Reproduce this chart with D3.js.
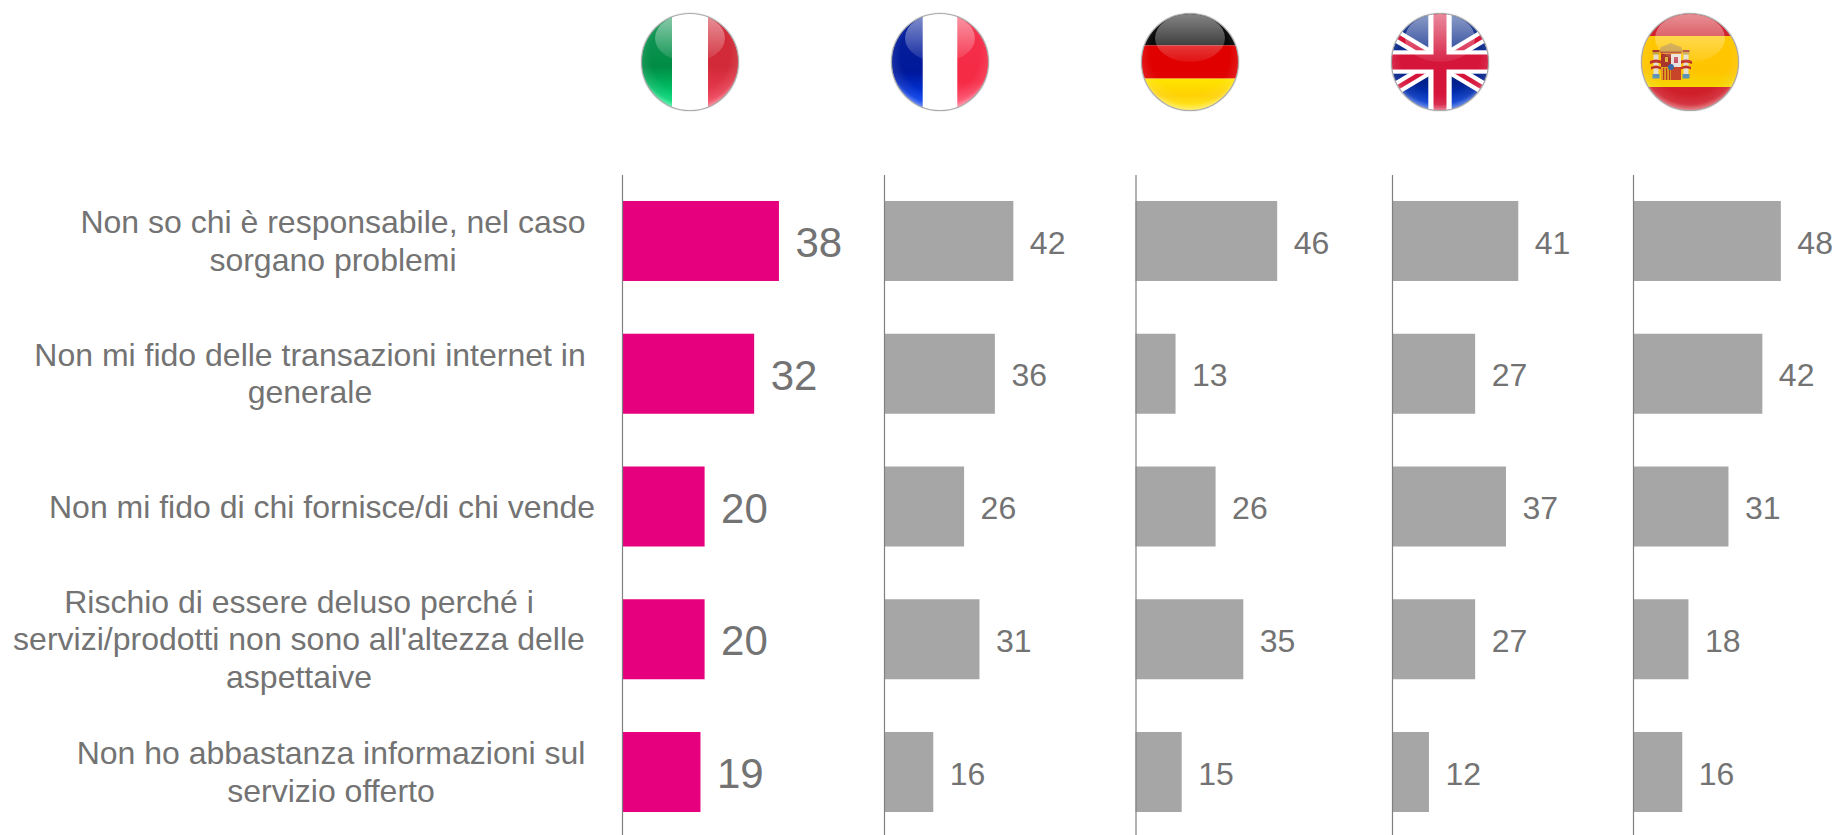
<!DOCTYPE html>
<html><head><meta charset="utf-8">
<script src="https://cdn.jsdelivr.net/npm/d3@7"></script>
<style>html,body{margin:0;background:#fff;overflow:hidden}svg{display:block}text{font-family:"Liberation Sans",Arial,sans-serif}</style>
</head><body><div id="chart"></div>
<script>
const categories = [
  ["Non so chi è responsabile, nel caso","sorgano problemi"],
  ["Non mi fido delle transazioni internet in","generale"],
  ["Non mi fido di chi fornisce/di chi vende"],
  ["Rischio di essere deluso perché i","servizi/prodotti non sono all'altezza delle","aspettaive"],
  ["Non ho abbastanza informazioni sul","servizio offerto"]
];
const countries = ["Italia","Francia","Germania","Regno Unito","Spagna"];
const italia   = [38,32,20,20,19];
const francia  = [42,36,26,31,16];
const germania = [46,13,26,35,15];
const regnoUnito = [41,27,37,27,12];
const spagna   = [48,42,31,18,16];
const seriesValues = [italia,francia,germania,regnoUnito,spagna];

// layout
const W=1836,H=835;
const panelX=[622,884,1135.5,1392,1633];
const flagX=[690,940,1190,1440,1690];
const flagY=62, R=48.5;
const labelCx=[333,310,322,299,331];
const pink="#E6007E",gray="#A6A6A6",txt="#737373";

const svg=d3.select("#chart").append("svg").attr("width",W).attr("height",H);
const defs=svg.append("defs");
const y=d3.scaleBand().domain(d3.range(categories.length)).range([174.6,838.4]).paddingInner(.3974).paddingOuter(.1987);
const x=d3.scaleLinear().domain([0,1]).range([0,3.08]);
const xBig=d3.scaleLinear().domain([0,1]).range([0,4.13]);

// category labels
const lh=37.5;
const lab=svg.append("g").selectAll("text").data(categories).join("text")
  .attr("text-anchor","middle").attr("font-size",32).attr("fill",txt);
lab.each(function(d,i){
  const yc=y(i)+y.bandwidth()/2;
  d3.select(this).selectAll("tspan").data(d).join("tspan")
    .attr("x",labelCx[i])
    .attr("y",(l,k)=>yc+(k-(d.length-1)/2)*lh+11)
    .text(l=>l);
});

// panels
seriesValues.forEach((vals,p)=>{
  const big=p===0, sx=big?xBig:x;
  const g=svg.append("g").attr("transform",`translate(${panelX[p]},0)`);
  g.selectAll("rect").data(vals).join("rect")
    .attr("x",0).attr("y",(d,i)=>y(i)).attr("width",d=>sx(d)).attr("height",y.bandwidth())
    .attr("fill",big?pink:gray);
  g.selectAll("text").data(vals).join("text")
    .attr("x",d=>sx(d)+16.5).attr("y",(d,i)=>y(i)+y.bandwidth()/2+1)
    .attr("dy","0.36em")
    .attr("font-size",big?42:32).attr("fill",txt).text(d=>d);
  const axis=g.append("g").call(d3.axisLeft(y).tickSize(0).tickFormat(""));
  axis.select(".domain").attr("stroke","#808080").attr("stroke-width",1.2);
});

// flag gradients
function vgrad(id,stops){
  const g=defs.append("linearGradient").attr("id",id).attr("gradientUnits","userSpaceOnUse")
    .attr("x1",0).attr("x2",0).attr("y1",-R).attr("y2",R);
  stops.forEach(s=>g.append("stop").attr("offset",s[0]).attr("stop-color",s[1]));
  return `url(#${id})`;
}
const itG=vgrad("itG",[[0,"#1a9a5c"],[.55,"#008C44"],[.92,"#00DD78"]]);
const itR=vgrad("itR",[[0,"#D02836"],[.55,"#D22A38"],[.92,"#F04058"]]);
const frB=vgrad("frB",[[0,"#0A249C"],[.6,"#00189A"],[.88,"#0038E8"]]);
const frR=vgrad("frR",[[0,"#F5304C"],[.7,"#F52A45"],[.95,"#FF5070"]]);
const deY=vgrad("deY",[[.66,"#FFE600"],[.85,"#FFD000"],[.95,"#FFE000"]]);
const ukB=vgrad("ukB",[[0,"#1A3A90"],[.7,"#00208A"],[.92,"#0038D0"]]);
const esY=vgrad("esY",[[.2,"#FFC800"],[.6,"#FFC400"],[.76,"#F5D800"]]);

const hl=defs.append("linearGradient").attr("id","hl").attr("x1",0).attr("x2",0).attr("y1",0).attr("y2",1);
hl.append("stop").attr("offset",0).attr("stop-color","#fff").attr("stop-opacity",.5);
hl.append("stop").attr("offset",1).attr("stop-color","#fff").attr("stop-opacity",.07);
const low=defs.append("radialGradient").attr("id","low").attr("cx",.5).attr("cy",.42).attr("r",.6);
low.append("stop").attr("offset",.68).attr("stop-color","#fff").attr("stop-opacity",0);
low.append("stop").attr("offset",.86).attr("stop-color","#fff").attr("stop-opacity",.1);
low.append("stop").attr("offset",1).attr("stop-color","#fff").attr("stop-opacity",.6);
defs.append("clipPath").attr("id","disc").append("circle").attr("r",R);

const rect=(g,x0,y0,w,h,c)=>g.append("rect").attr("x",x0).attr("y",y0).attr("width",w).attr("height",h).attr("fill",c);
function column(a,cx){
  rect(a,cx-2.5,11,5,21,"#E4E0CC");
  rect(a,cx-3.5,9,7,2.5,"#C9A23A");
  rect(a,cx-3.5,7,7,2,"#B03A2A");
  rect(a,cx-3.5,31,7,4.5,"#5C93B8");
  a.append("path").attr("d",`M${cx-6} 18 Q${cx} 15 ${cx+6} 18 L${cx+6} 21 Q${cx} 18 ${cx-6} 21 Z`).attr("fill","#C03328");
  a.append("path").attr("d",`M${cx-5} 24 Q${cx} 21 ${cx+5} 24 L${cx+5} 26.5 Q${cx} 24 ${cx-5} 26.5 Z`).attr("fill","#C03328");
}
const painters=[
  g=>{rect(g,-50,-50,32,100,itG);rect(g,-18,-50,36,100,"#fff");rect(g,18,-50,32,100,itR);},
  g=>{rect(g,-50,-50,33,100,frB);rect(g,-17.3,-50,34.6,100,"#fff");rect(g,17.3,-50,33,100,frR);},
  g=>{rect(g,-50,-50,100,33.4,"#0A0A0A");rect(g,-50,-16.6,100,33.2,"#E00000");rect(g,-50,16.6,100,34,deY);},
  g=>{
    rect(g,-50,-50,100,100,ukB);
    const s=(c,w)=>[[-50,-30,50,30],[-50,30,50,-30]].forEach(q=>g.append("line").attr("x1",q[0]).attr("y1",q[1]).attr("x2",q[2]).attr("y2",q[3]).attr("stroke",c).attr("stroke-width",w));
    s("#fff",13);s("#D5153A",4.5);
    rect(g,-50,-11.7,100,23.4,"#fff");rect(g,-11.7,-50,23.4,100,"#fff");
    rect(g,-50,-7.5,100,15,"#D5153A");rect(g,-6.5,-50,13,100,"#D5153A");
  },
  g=>{
    rect(g,-50,-50,100,100,"#CF1F2B");rect(g,-50,-26,100,51,esY);
    const a=g.append("g").attr("transform","translate(-38,-19)");
    column(a,4);column(a,34);
    // crown
    a.append("path").attr("d","M8 9 Q7 3 12 3 L19 0 L26 3 Q31 3 30 9 Z").attr("fill","#C99A30");
    rect(a,8.5,8.5,21,2,"#B8402A");
    // shield
    rect(a,9,11,10,13,"#A8342C");
    rect(a,19,11,10,13,"#E8E0DC");
    rect(a,9,24,10,13,"#E0A020");
    rect(a,19,24,10,13,"#C8452A");
    [11,14,17].forEach(v=>rect(a,v,25,1.2,12,"#B83A20"));
    rect(a,13,14,3,5,"#E0B040");
    rect(a,22,14,4,6,"#C85060");
    a.append("circle").attr("cx",19).attr("cy",24).attr("r",3).attr("fill","#3A68A8");
  }
];
countries.forEach((c,i)=>{
  const g=svg.append("g").attr("transform",`translate(${flagX[i]},${flagY})`);
  g.append("circle").attr("r",R+1.5).attr("fill","#000").attr("opacity",.06);
  const cl=g.append("g").attr("clip-path","url(#disc)");
  painters[i](cl);
  cl.append("circle").attr("r",R).attr("fill","url(#low)");
  cl.append("ellipse").attr("cx",0).attr("cy",-24).attr("rx",35).attr("ry",24).attr("fill","url(#hl)");
  g.append("circle").attr("r",R).attr("fill","none").attr("stroke","#aaa").attr("stroke-width",1.1);
});
</script></body></html>
